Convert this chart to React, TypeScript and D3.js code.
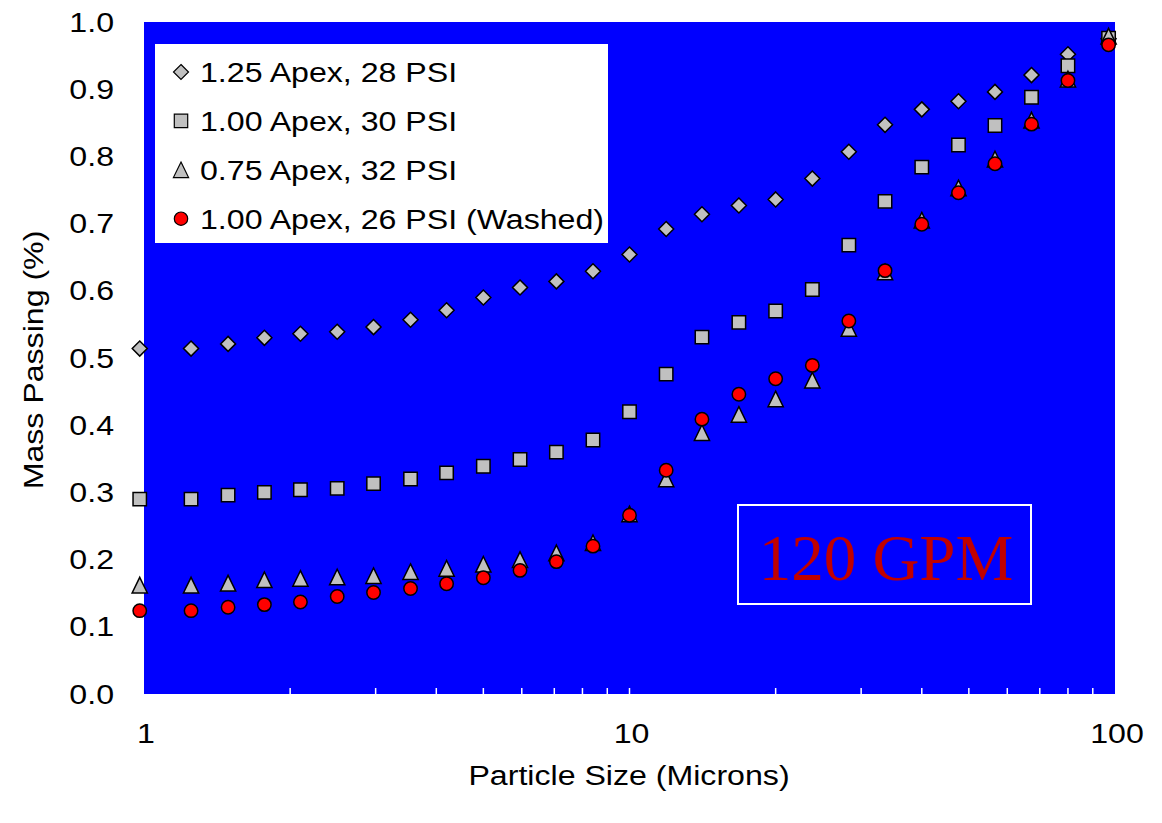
import React, { useEffect, useRef } from 'react';
import * as d3 from 'd3';

// particle size classes (microns), shared by all four runs
const sizes = [0.98, 1.25, 1.49, 1.77, 2.1, 2.5, 2.97, 3.54, 4.2, 5.0, 5.95, 7.07, 8.41, 10.0,
    11.9, 14.1, 16.8, 20.0, 23.8, 28.3, 33.6, 40.0, 47.6, 56.6, 67.3, 80.0, 97.0];

const apex125 = [0.514, 0.514, 0.521, 0.530, 0.536, 0.539, 0.546, 0.557, 0.571, 0.590, 0.605, 0.614, 0.629, 0.654,
    0.692, 0.714, 0.727, 0.736, 0.767, 0.807, 0.847, 0.870, 0.882, 0.896, 0.921, 0.952, 0.975];
const apex100 = [0.290, 0.290, 0.296, 0.300, 0.304, 0.306, 0.313, 0.320, 0.329, 0.339, 0.349, 0.360, 0.378, 0.420,
    0.476, 0.531, 0.553, 0.570, 0.602, 0.668, 0.733, 0.784, 0.817, 0.846, 0.888, 0.935, 0.976];
const apex075 = [0.162, 0.162, 0.165, 0.170, 0.172, 0.174, 0.176, 0.182, 0.187, 0.193, 0.200, 0.210, 0.225, 0.268,
    0.320, 0.389, 0.416, 0.439, 0.467, 0.544, 0.628, 0.705, 0.753, 0.796, 0.854, 0.915, 0.979];
const apex100Washed = [0.124, 0.124, 0.129, 0.133, 0.137, 0.145, 0.151, 0.157, 0.164, 0.173, 0.184, 0.197, 0.220, 0.266,
    0.333, 0.409, 0.446, 0.469, 0.489, 0.555, 0.630, 0.699, 0.746, 0.789, 0.848, 0.913, 0.966];

const seriesNames = ["1.25 Apex, 28 PSI", "1.00 Apex, 30 PSI", "0.75 Apex, 32 PSI", "1.00 Apex, 26 PSI (Washed)"];
const seriesShapes = ["diamond", "square", "triangle", "circle"];
const seriesFills = ["#c0c0c0", "#c0c0c0", "#c0c0c0", "#ff0000"];

const yTicks = [0, 0.1, 0.2, 0.3, 0.4, 0.5, 0.6, 0.7, 0.8, 0.9, 1.0];
const xTickLabels = [1, 10, 100];
const xMinorTicks = [2, 3, 4, 5, 6, 7, 8, 9, 10, 20, 30, 40, 50, 60, 70, 80, 90];

const SANS = "'Liberation Sans', Arial, Helvetica, sans-serif";
const FS = 27;
const STRETCH = 1.19;

const marker = (shape, cx, cy) => {
    if (shape === "diamond") {
        const r = 7.5;
        return `M${cx},${cy - r}L${cx + r},${cy}L${cx},${cy + r}L${cx - r},${cy}Z`;
    }
    if (shape === "square") {
        const h = 6.7;
        return `M${cx - h},${cy - h}H${cx + h}V${cy + h}H${cx - h}Z`;
    }
    if (shape === "triangle") {
        const w = 7.6, h = 7.8;
        return `M${cx},${cy - h}L${cx + w},${cy + h}L${cx - w},${cy + h}Z`;
    }
    const p = d3.path();
    p.arc(cx, cy, 6.7, 0, 2 * Math.PI);
    return p.toString();
};

const App = () => {
    const wrapper = useRef(null);
    const width = 1162, height = 823;

    useEffect(() => {
        d3.select(wrapper.current).selectAll("svg").remove();

        const svg = d3.select(wrapper.current)
            .append("svg")
            .attr("width", width)
            .attr("height", height)
            .style("display", "block");

        const x = d3.scaleLog().domain([1, 100]).range([144, 1115]);
        const y = d3.scaleLinear().domain([0, 1]).range([694, 22]);

        svg.append("rect")
            .attr("x", x(1)).attr("y", y(1))
            .attr("width", x(100) - x(1)).attr("height", y(0) - y(1))
            .attr("fill", "#0000ff");

        // white minor ticks pointing inward
        svg.append("g")
            .selectAll("line")
            .data(xMinorTicks)
            .join("line")
            .attr("x1", d => x(d)).attr("x2", d => x(d))
            .attr("y1", y(0)).attr("y2", y(0) - 6)
            .attr("stroke", "#ffffff").attr("stroke-width", 1.5);

        svg.append("g")
            .selectAll("text")
            .data(yTicks)
            .join("text")
            .attr("transform", d => `translate(114,${y(d) + 9.5}) scale(${STRETCH},1)`)
            .attr("text-anchor", "end")
            .attr("font-family", SANS).attr("font-size", FS)
            .text(d => d3.format(".1f")(d));

        svg.append("g")
            .selectAll("text")
            .data(xTickLabels)
            .join("text")
            .attr("transform", d => `translate(${x(d) + 2},${743}) scale(${STRETCH},1)`)
            .attr("text-anchor", "middle")
            .attr("font-family", SANS).attr("font-size", FS)
            .text(d => d);

        svg.append("text")
            .attr("transform", `translate(629,785) scale(${STRETCH},1)`)
            .attr("text-anchor", "middle")
            .attr("font-family", SANS).attr("font-size", FS)
            .text("Particle Size (Microns)");

        svg.append("text")
            .attr("transform", `translate(43,360) rotate(-90) scale(${STRETCH},1)`)
            .attr("text-anchor", "middle")
            .attr("font-family", SANS).attr("font-size", FS)
            .text("Mass Passing (%)");

        // 120 GPM label box
        svg.append("rect")
            .attr("x", 738).attr("y", 505).attr("width", 293).attr("height", 99)
            .attr("fill", "none").attr("stroke", "#ffffff").attr("stroke-width", 2);
        svg.append("text")
            .attr("x", 886).attr("y", 580)
            .attr("text-anchor", "middle")
            .attr("font-family", "'Liberation Serif', 'Times New Roman', serif")
            .attr("font-size", 65)
            .attr("fill", "#c00000")
            .text("120 GPM");

        const allSeries = [apex125, apex100, apex075, apex100Washed];

        svg.append("g")
            .selectAll("g")
            .data(allSeries)
            .join("g")
            .attr("fill", (d, i) => seriesFills[i])
            .attr("stroke", "#000000")
            .attr("stroke-width", 1.5)
            .each(function (vals, i) {
                d3.select(this)
                    .selectAll("path")
                    .data(vals)
                    .join("path")
                    .attr("d", (v, j) => marker(seriesShapes[i], x(sizes[j]), y(v)));
            });

        // legend
        const legend = svg.append("g");
        legend.append("rect")
            .attr("x", 155).attr("y", 44).attr("width", 453).attr("height", 199)
            .attr("fill", "#ffffff");

        const rows = legend.selectAll("g")
            .data(seriesNames)
            .join("g")
            .attr("transform", (d, i) => `translate(181,${72 + i * 48.9})`);

        rows.append("path")
            .attr("d", (d, i) => marker(seriesShapes[i], 0, 0))
            .attr("fill", (d, i) => seriesFills[i])
            .attr("stroke", "#000000")
            .attr("stroke-width", 1.2);

        rows.append("text")
            .attr("transform", `translate(19,10) scale(${STRETCH},1)`)
            .attr("font-family", SANS).attr("font-size", FS)
            .text(d => d);
    }, []);

    return (
        <div ref={wrapper} style={{ position: "absolute", left: 0, top: 0 }} />
    );
};

export default App;
